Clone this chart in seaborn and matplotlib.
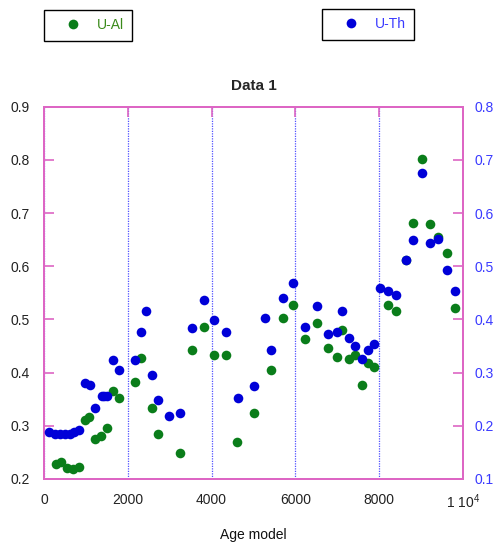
import matplotlib
matplotlib.use("Agg")
import matplotlib.pyplot as plt
from matplotlib.lines import Line2D
import seaborn as sns

# U-Al series (left axis)
age_al = [279, 414, 557, 700, 835, 975, 1085, 1217, 1369, 1496, 1643, 1782,
          2165, 2308, 2586, 2729, 3254, 3533, 3812, 4058, 4344, 4614, 5013,
          5426, 5708, 5951, 6236, 6515, 6771, 6986, 7120, 7288, 7431, 7590,
          7733, 7876, 8204, 8401, 8632, 8814, 9014, 9213, 9403, 9626, 9817]
u_al = [0.228, 0.231, 0.220, 0.218, 0.223, 0.311, 0.317, 0.275, 0.281, 0.295,
        0.365, 0.352, 0.382, 0.427, 0.334, 0.284, 0.248, 0.442, 0.486, 0.433,
        0.433, 0.270, 0.324, 0.405, 0.503, 0.527, 0.464, 0.493, 0.446, 0.429,
        0.481, 0.426, 0.433, 0.376, 0.418, 0.411, 0.527, 0.515, 0.612, 0.681,
        0.802, 0.679, 0.655, 0.624, 0.521]

# U-Th series (right axis)
age_th = [127, 263, 382, 509, 621, 716, 843, 971, 1090, 1217, 1380, 1440, 1500,
          1643, 1782, 2165, 2315, 2435, 2586, 2729, 2976, 3254, 3533, 3812,
          4058, 4344, 4624, 5013, 5283, 5426, 5708, 5951, 6236, 6515, 6771,
          6986, 7120, 7288, 7431, 7590, 7733, 7876, 8012, 8204, 8401, 8632,
          8814, 9014, 9213, 9403, 9626, 9817]
u_th = [0.188, 0.185, 0.184, 0.184, 0.185, 0.188, 0.192, 0.281, 0.276, 0.234,
        0.256, 0.256, 0.256, 0.324, 0.304, 0.324, 0.377, 0.416, 0.296, 0.249,
        0.218, 0.225, 0.383, 0.436, 0.399, 0.377, 0.252, 0.274, 0.403, 0.342,
        0.441, 0.468, 0.386, 0.425, 0.373, 0.377, 0.415, 0.366, 0.350, 0.326,
        0.343, 0.353, 0.459, 0.454, 0.445, 0.512, 0.549, 0.676, 0.544, 0.552,
        0.493, 0.454]

x_ticks = [0, 2000, 4000, 6000, 8000, 10000]
x_labels = ["0", "2000", "4000", "6000", "8000", "1 10$^{4}$"]
left_ticks = [0.2, 0.3, 0.4, 0.5, 0.6, 0.7, 0.8, 0.9]
right_ticks = [0.1, 0.2, 0.3, 0.4, 0.5, 0.6, 0.7, 0.8]

green = "#0a7d1a"
blue = "#0000d8"
frame = "#dd66c4"

sns.set_style("white")
plt.rcParams["font.family"] = ["Liberation Sans", "DejaVu Sans"]
plt.rcParams["mathtext.fontset"] = "custom"
plt.rcParams["mathtext.rm"] = "Liberation Sans"

fig = plt.figure(figsize=(4.93, 5.43), dpi=100)
ax = fig.add_axes([0.0892, 0.1179, 0.850, 0.6856])
ax2 = ax.twinx()

sns.scatterplot(x=age_al, y=u_al, ax=ax, color=green, s=48, linewidth=0, zorder=3)
sns.scatterplot(x=age_th, y=u_th, ax=ax2, color=blue, s=48, linewidth=0, zorder=3)

ax.set_xlim(0, 10000)
ax.set_ylim(0.2, 0.9)
ax2.set_ylim(0.1, 0.8)
ax.set_xticks(x_ticks)
ax.set_xticklabels(x_labels)
ax.set_yticks(left_ticks)
ax.set_yticklabels([f"{v:.1f}" for v in left_ticks])
ax2.set_yticks(right_ticks)
ax2.set_yticklabels([f"{v:.1f}" for v in right_ticks])

ax.xaxis.grid(True, linestyle=(0, (1, 1)), color="#5050ff", linewidth=0.9)
ax.set_axisbelow(True)

for a in (ax, ax2):
    for sp in a.spines.values():
        sp.set_color(frame)
        sp.set_linewidth(1.4)

ax.tick_params(axis="x", direction="in", length=7, width=1.2, color=frame,
               top=True, labelsize=10, labelcolor="#222222", pad=10)
ax.tick_params(axis="y", direction="in", length=7, width=1.2, color=frame,
               labelsize=10, labelcolor="#222222", pad=10)
ax2.tick_params(axis="y", direction="in", length=7, width=1.2, color=frame,
                labelsize=10, labelcolor="#3a3aff", pad=8)

ax.set_xlabel("Age model", fontsize=10, color="#111111", labelpad=12)
ax.set_ylabel("")
ax2.set_ylabel("")
ax.set_title("Data 1", fontsize=11, fontweight="bold", pad=12)

h_al = Line2D([], [], marker="o", linestyle="none", color=green, markersize=7,
              markeredgewidth=0)
h_th = Line2D([], [], marker="o", linestyle="none", color=blue, markersize=7,
              markeredgewidth=0)
for h, lab, col, anchor in [(h_al, "U-Al", "#3a8a1a", (44 / 493, 1 - 10 / 543)),
                            (h_th, "U-Th", "#3a3aff", (322 / 493, 1 - 9 / 543))]:
    leg = fig.legend(handles=[h], labels=[lab], loc="upper left",
                     bbox_to_anchor=anchor, fancybox=False, edgecolor="black",
                     framealpha=1, fontsize=10, handlelength=3.0,
                     handletextpad=0.2, borderpad=0.6, borderaxespad=0)
    leg.get_frame().set_linewidth(1.0)
    for t in leg.get_texts():
        t.set_color(col)

fig.savefig("out.png", dpi=100)
